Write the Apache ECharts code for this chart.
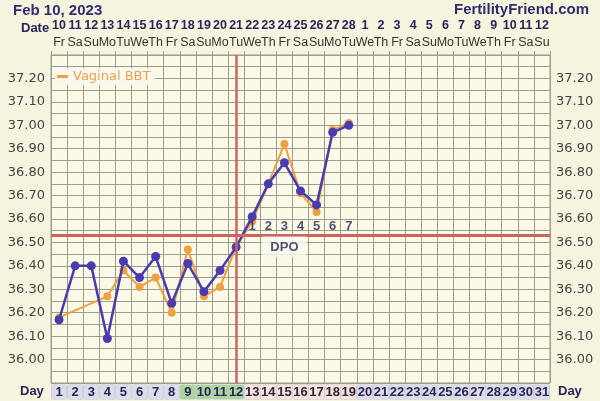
<!DOCTYPE html>
<html><head><meta charset="utf-8">
<script src="https://cdn.jsdelivr.net/npm/echarts@6/dist/echarts.min.js"></script>
<style>html,body{margin:0;padding:0;background:#f6f3de;}#c{width:600px;height:401px;}</style>
</head><body><div id="c"></div>
<script>
const days = ['1','2','3','4','5','6','7','8','9','10','11','12','13','14','15','16','17','18','19','20','21','22','23','24','25','26','27','28','29','30','31'];
const dates = ['10','11','12','13','14','15','16','17','18','19','20','21','22','23','24','25','26','27','28','1','2','3','4','5','6','7','8','9','10','11','12'];
const weekdays = ['Fr','Sa','Su','Mo','Tu','We','Th','Fr','Sa','Su','Mo','Tu','We','Th','Fr','Sa','Su','Mo','Tu','We','Th','Fr','Sa','Su','Mo','Tu','We','Th','Fr','Sa','Su'];
const bbt = [36.17,36.40,36.40,36.09,36.42,36.35,36.44,36.24,36.41,36.29,36.38,36.48,36.61,36.75,36.84,36.72,36.66,36.97,37.00];
const vaginalBBT = [36.18,null,null,36.27,36.38,36.31,36.35,36.20,36.47,36.27,36.31,36.48,36.59,36.75,36.92,36.71,36.63,36.98,37.01];
const dayPhase = ['l','l','l','l','l','l','l','l','g','g','g','g','p','p','p','p','p','p','p','l','l','l','l','l','l','l','l','l','l','l','l'];
const coverline = 36.535;
const ovulationDay = '12';
const dpoDays = ['13','14','15','16','17','18','19'];
const dpoLabels = ['1','2','3','4','5','6','7'];
const yMin = 35.90, yMax = 37.30, yStep = 0.05;

const chart = echarts.init(document.getElementById('c'), null, {renderer:'canvas'});
const font = 'DejaVu Sans, Verdana, sans-serif';
const nfont = 'Liberation Sans, Arial, sans-serif';
function yFmt(v){
  const c = Math.round(v*100);
  if (c % 10 !== 0 || c < 3600 || c > 3720) return '';
  return (c/100).toFixed(2);
}
const cellBase = {width:15, height:14, align:'center', verticalAlign:'middle', fontWeight:'bold', fontSize:13, fontFamily:nfont, lineHeight:14, borderColor:'#c4c4d2', borderWidth:0.5};
const yAxisCommon = {
  type:'value', min:yMin, max:yMax, interval:yStep,
  axisLine:{show:false}, axisTick:{show:false},
  axisLabel:{formatter:yFmt, fontSize:13, fontFamily:font, color:'#444', margin:6},
  splitLine:{show:true, lineStyle:{color:'#9c9c88', width:1}}
};
chart.setOption({
  backgroundColor:'#f6f3de',
  animation:false,
  grid:{left:51, right:50, top:55, bottom:18, show:true, backgroundColor:'#fbf9e7', borderColor:'#9c9c88', borderWidth:1, containLabel:false},
  legend:{data:['Vaginal BBT'], left:55, top:68, backgroundColor:'#faf8ee', padding:[2,4,2,2],
    itemWidth:11, itemHeight:3, icon:'rect', itemGap:4,
    textStyle:{color:'#f0a050', fontSize:13, fontFamily:font}},
  xAxis:[
    {type:'category', data:days, position:'bottom', boundaryGap:true,
      axisLine:{show:false}, axisTick:{show:false},
      splitLine:{show:true, interval:0, lineStyle:{color:'#9c9c88', width:1}},
      axisLabel:{interval:0, margin:2,
        formatter:(v,i)=>'{'+dayPhase[i]+'|'+v+'}',
        rich:{
          l:Object.assign({}, cellBase, {backgroundColor:'#dcdcea', color:'#26265a'}),
          g:Object.assign({}, cellBase, {backgroundColor:'#a9d69d', color:'#26265a'}),
          p:Object.assign({}, cellBase, {backgroundColor:'#f5e5da', color:'#3a2040'})
        }}},
    {type:'category', data:dates, position:'top', boundaryGap:true,
      axisLine:{show:false}, axisTick:{show:true, interval:0, length:4, lineStyle:{color:'#9c9c88'}},
      axisLabel:{interval:0, margin:5,
        formatter:(v,i)=>'{d|'+v+'}\n{w|'+weekdays[i]+'}',
        rich:{d:{fontSize:12.5, fontWeight:'bold', color:'#26265a', fontFamily:nfont, lineHeight:18},
              w:{fontSize:12.5, color:'#333', fontFamily:nfont, lineHeight:15}}}}
  ],
  yAxis:[
    Object.assign({}, yAxisCommon, {position:'left'}),
    Object.assign({}, yAxisCommon, {position:'right', splitLine:{show:false}})
  ],
  graphic:[
    {type:'text', left:13, top:3, style:{text:'Feb 10, 2023', font:'bold 15px '+nfont, fill:'#2e2e6e'}},
    {type:'text', right:11, top:2, style:{text:'FertilityFriend.com', font:'bold 15px '+nfont, fill:'#2e2e6e'}},
    {type:'text', left:21, top:22, style:{text:'Date', font:'bold 13px '+nfont, fill:'#26265a'}},
    {type:'text', left:20, top:385, style:{text:'Day', font:'bold 13px '+nfont, fill:'#26265a'}},
    {type:'text', left:558, top:385, style:{text:'Day', font:'bold 13px '+nfont, fill:'#26265a'}}
  ],
  series:[
    {name:'BBT', type:'line', data:bbt, xAxisIndex:0, yAxisIndex:0,
      symbol:'circle', symbolSize:9, z:4,
      lineStyle:{color:'#4a3cae', width:2.5}, itemStyle:{color:'#4a3cae'},
      markLine:{silent:true, symbol:'none', label:{show:false},
        lineStyle:{color:'#cc6464', width:3, type:'solid'},
        data:[{yAxis:coverline}, {xAxis:ovulationDay, lineStyle:{width:2.5}}]}},
    {name:'Vaginal BBT', type:'line', data:vaginalBBT, connectNulls:true, xAxisIndex:0, yAxisIndex:0,
      symbol:'circle', symbolSize:8, z:3,
      lineStyle:{color:'#f0a040', width:2}, itemStyle:{color:'#f0a040'}},
    {name:'DPO', type:'scatter', symbolSize:0, z:5,
      data:dpoDays.map((d,i)=>({value:[d, coverline+0.035], lbl:dpoLabels[i]})),
      label:{show:true, position:'inside', formatter:p=>p.data.lbl, fontSize:13, fontWeight:'bold', color:'#26265a', fontFamily:nfont}},
    {name:'DPOtitle', type:'scatter', symbolSize:0, z:5,
      data:[{value:['15', coverline-0.055]}],
      label:{show:true, position:'inside', formatter:'DPO', fontSize:13, fontWeight:'bold', color:'#26265a', fontFamily:nfont,
        backgroundColor:'#fbfaf0', padding:[4,8,4,8]}}
  ]
});
</script></body></html>
